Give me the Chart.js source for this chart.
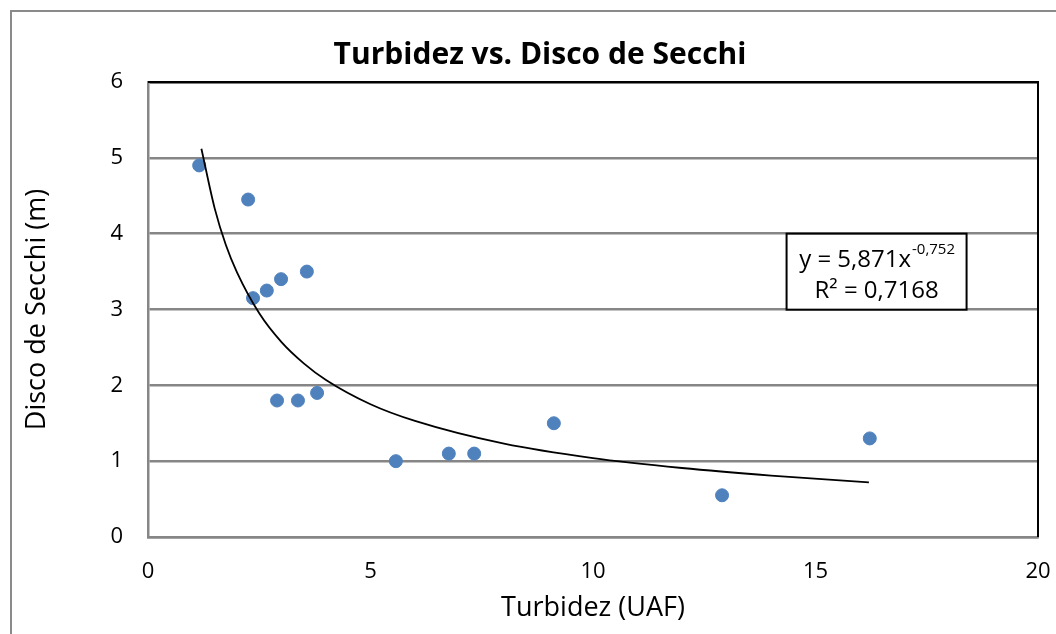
<!DOCTYPE html>
<html>
<head>
<meta charset="utf-8">
<script src="https://cdn.jsdelivr.net/npm/chart.js@4"></script>
<style>
  html, body { margin: 0; padding: 0; background: #fff; overflow: hidden; }
  #wrap { position: relative; width: 1056px; height: 634px; }
  #frame { position: absolute; left: 10px; top: 10px; width: 1200px; height: 800px;
           border: 2px solid #8a8a8a; box-sizing: border-box; }
  #chart { position: absolute; left: 0; top: 0; }
</style>
</head>
<body>
<div id="wrap">
  <div id="frame"></div>
  <canvas id="chart" width="1056" height="634"></canvas>
</div>
<script>
"use strict";

// Measured points: turbidity (UAF) vs Secchi depth (m)
var turbidez = [1.15, 2.25, 2.36, 2.67, 2.99, 3.57, 2.90, 3.37, 3.80, 5.57, 6.76, 7.33, 9.12, 12.9, 16.22];
var secchi   = [4.90, 4.45, 3.15, 3.25, 3.40, 3.50, 1.80, 1.80, 1.90, 1.00, 1.10, 1.10, 1.50, 0.55, 1.30];

// Power trendline
var trendX = [1.2, 1.5, 1.75, 2, 2.5, 3, 3.5, 4, 5, 6, 8, 10, 12, 14, 16.2];
var trendY = [5.12, 4.33, 3.85, 3.49, 2.95, 2.57, 2.29, 2.07, 1.75, 1.53, 1.23, 1.04, 0.91, 0.81, 0.72];

var yTicks = [0, 1, 2, 3, 4, 5, 6];
var xTicks = [0, 5, 10, 15, 20];

var titleText = 'Turbidez vs. Disco de Secchi';
var xTitle = 'Turbidez (UAF)';
var yTitle = 'Disco de Secchi (m)';
var eqMain = 'y = 5,871x';
var eqExp = '-0,752';
var eqR2 = 'R\u00b2 = 0,7168';

var FONT = "'Open Sans', 'Noto Sans', sans-serif";
var GRID = '#868686';

function toPoints(xs, ys) {
    var out = [];
    for (var i = 0; i < xs.length; i++) {
        out.push({x: xs[i], y: ys[i]});
    }
    return out;
}

// black frame on top and right of the plot area, plus the equation box
var framePlugin = {
    id: 'frame',
    afterDraw: function (chart) {
        var a = chart.chartArea;
        var ctx = chart.ctx;
        var xs = chart.scales.x, ys = chart.scales.y;
        ctx.save();
        ctx.strokeStyle = '#000';
        ctx.lineWidth = 2;
        ctx.beginPath();
        ctx.moveTo(a.left, a.top);
        ctx.lineTo(a.right, a.top);
        ctx.lineTo(a.right, a.bottom);
        ctx.stroke();

        // trendline label box
        var bx = xs.getPixelForValue(14.35), by = ys.getPixelForValue(4.0);
        var bw = 180, bh = 76;
        ctx.fillStyle = '#fff';
        ctx.fillRect(bx, by, bw, bh);
        ctx.lineWidth = 2;
        ctx.strokeRect(bx, by, bw, bh);

        ctx.fillStyle = '#000';
        ctx.textBaseline = 'alphabetic';
        ctx.font = '24px ' + FONT;
        var w1 = ctx.measureText(eqMain).width;
        ctx.font = '15px ' + FONT;
        var w2 = ctx.measureText(eqExp).width;
        var cx = bx + bw / 2;
        var start = cx - (w1 + w2) / 2;
        ctx.font = '24px ' + FONT;
        ctx.textAlign = 'left';
        ctx.fillText(eqMain, start, by + 33);
        ctx.font = '15px ' + FONT;
        ctx.fillText(eqExp, start + w1 + 1, by + 20);
        ctx.font = '24px ' + FONT;
        ctx.textAlign = 'center';
        ctx.fillText(eqR2, cx, by + 64);
        ctx.restore();
    }
};

new Chart(document.getElementById('chart'), {
    type: 'scatter',
    data: {
        datasets: [{
            label: 'Disco de Secchi',
            data: toPoints(turbidez, secchi),
            backgroundColor: '#4f81bd',
            borderColor: '#4f81bd',
            pointRadius: 6.5,
            pointHoverRadius: 6.5,
            order: 2
        }, {
            label: 'Tendencia',
            type: 'line',
            data: toPoints(trendX, trendY),
            borderColor: '#000',
            borderWidth: 1.8,
            pointRadius: 0,
            fill: false,
            cubicInterpolationMode: 'monotone',
            order: 1
        }]
    },
    options: {
        responsive: false,
        animation: false,
        layout: {padding: {left: 42, right: 18, top: 0, bottom: 0}},
        plugins: {
            legend: {display: false},
            tooltip: {enabled: false},
            title: {
                display: true,
                text: titleText,
                color: '#000',
                font: {family: FONT, size: 30, weight: 'bold'},
                padding: {top: 37, bottom: 9}
            }
        },
        scales: {
            x: {
                type: 'linear',
                min: 0,
                max: 20,
                afterBuildTicks: function (s) {
                    s.ticks = xTicks.map(function (v) { return {value: v}; });
                },
                afterFit: function (s) {
                    s.height = 97;
                    s.paddingLeft = 0;
                    s.paddingRight = 0;
                },
                grid: {display: false, drawTicks: false},
                border: {display: true, color: GRID, width: 2.5},
                ticks: {color: '#000', padding: 22, font: {family: FONT, size: 22}, maxRotation: 0},
                title: {
                    display: true, text: xTitle, color: '#000',
                    font: {family: FONT, size: 27},
                    padding: {top: 9, bottom: 9}
                }
            },
            y: {
                type: 'linear',
                min: 0,
                max: 6,
                afterBuildTicks: function (s) {
                    s.ticks = yTicks.map(function (v) { return {value: v}; });
                },
                afterFit: function (s) { s.width = 106; },
                grid: {
                    drawTicks: false,
                    lineWidth: 2.5,
                    color: function (c) { return c.tick && c.tick.value === 6 ? '#000' : GRID; }
                },
                border: {display: true, color: GRID, width: 2.5},
                ticks: {color: '#000', padding: 25, font: {family: FONT, size: 22}},
                title: {
                    display: true, text: yTitle, color: '#000',
                    font: {family: FONT, size: 27},
                    padding: {top: -21, bottom: 10}
                }
            }
        }
    },
    plugins: [framePlugin]
});
</script>
</body>
</html>
